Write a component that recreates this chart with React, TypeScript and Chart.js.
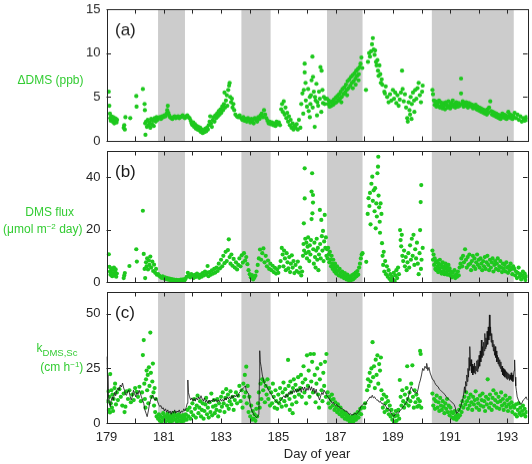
import React, { useEffect, useRef } from 'react';
import { Chart, registerables } from 'chart.js';

Chart.register(...registerables);

// ---- axes ----
const DAY_MIN = 179;
const DAY_MAX = 193.7;
const dayTicks = [179, 180, 181, 182, 183, 184, 185, 186, 187, 188, 189, 190, 191, 192, 193];
const labeledDays = [179, 181, 183, 185, 187, 189, 191, 193];
const dmsTicks = [0, 5, 10, 15];
const fluxTicks = [0, 20, 40];
const kTicks = [0, 25, 50];

// night-time periods (day of year, start / end)
const nightPeriods: [number, number][] = [
  [180.8, 181.74],
  [183.71, 184.73],
  [186.7, 187.94],
  [190.36, 193.22],
];

// ---- (a) ΔDMS, ppb ----
const deltaDms: [number, number][] = [
  [179.08, 5.6], [179.1, 4.0], [179.12, 3.1], [179.13, 2.6], [179.15, 2.3], [179.17, 2.8], [179.19, 2.5], [179.21, 2.2],
  [179.23, 2.7], [179.25, 2.4], [179.27, 2.0], [179.29, 2.6], [179.31, 2.3], [179.33, 2.5], [179.35, 2.1], [179.37, 2.4],
  [179.6, 1.5], [179.62, 1.8], [179.64, 1.3], [179.66, 2.7], [179.83, 2.6],
  [180.04, 5.1], [180.05, 3.9], [180.27, 5.9], [180.33, 4.2], [180.34, 3.5], [180.35, 2.0], [180.36, 0.7],
  [180.38, 2.2], [180.41, 1.6], [180.44, 2.4], [180.47, 1.8], [180.5, 2.1], [180.53, 1.5], [180.56, 2.5], [180.59, 1.9],
  [180.62, 2.3], [180.65, 1.7], [180.68, 2.6], [180.72, 2.2], [180.75, 2.7],
  [180.78, 2.4], [180.82, 2.6], [180.86, 2.7], [180.9, 2.5], [180.94, 2.8], [180.98, 2.7], [181.02, 2.9], [181.06, 2.8],
  [181.1, 3.1], [181.12, 3.5], [181.14, 4.0], [181.16, 3.2], [181.19, 2.9], [181.22, 2.7], [181.26, 2.6], [181.3, 2.5],
  [181.34, 2.7], [181.38, 2.8], [181.42, 2.6], [181.46, 2.7], [181.5, 2.8], [181.54, 2.6], [181.58, 2.7], [181.62, 2.8],
  [181.66, 2.9], [181.7, 2.7], [181.74, 2.6], [181.78, 2.8], [181.82, 2.9], [181.86, 2.7], [181.9, 2.6], [181.94, 2.3],
  [181.97, 2.0], [182.0, 1.8], [182.03, 2.1], [182.06, 1.6], [182.09, 1.9], [182.12, 1.4], [182.15, 1.7], [182.18, 1.3],
  [182.21, 1.6], [182.24, 1.2], [182.27, 1.5], [182.3, 1.0], [182.33, 1.3], [182.36, 0.9], [182.39, 1.2], [182.42, 1.0],
  [182.45, 1.4], [182.48, 1.1], [182.51, 1.5], [182.54, 1.3], [182.57, 1.8], [182.6, 2.2], [182.62, 2.8], [182.65, 2.0],
  [182.68, 1.6], [182.71, 2.4], [182.74, 2.7], [182.77, 2.2], [182.8, 2.9], [182.83, 2.6], [182.86, 3.1], [182.89, 2.8],
  [182.92, 3.4], [182.95, 3.0], [182.98, 3.6], [183.01, 3.2], [183.04, 3.9], [183.07, 3.5], [183.1, 4.2], [183.12, 5.5],
  [183.14, 3.8], [183.17, 4.6], [183.2, 5.2], [183.22, 4.0], [183.25, 5.8], [183.28, 6.3], [183.3, 6.6], [183.32, 5.0],
  [183.35, 4.4], [183.38, 4.8], [183.4, 3.8], [183.43, 4.2], [183.46, 3.5], [183.5, 3.0], [183.55, 2.8], [183.6, 2.7],
  [183.65, 2.9], [183.7, 2.6], [183.74, 2.4], [183.78, 2.7], [183.82, 2.3], [183.86, 2.5], [183.9, 2.2], [183.94, 2.6],
  [183.98, 2.4], [184.02, 2.1], [184.06, 2.5], [184.1, 2.3], [184.14, 2.0], [184.18, 2.6], [184.22, 2.4], [184.26, 2.2],
  [184.3, 2.7], [184.34, 2.5], [184.38, 2.9], [184.42, 3.1], [184.46, 2.7], [184.5, 3.5], [184.54, 3.0], [184.58, 2.6],
  [184.62, 2.3], [184.66, 2.0], [184.7, 2.2], [184.74, 1.9], [184.78, 2.1], [184.82, 1.8], [184.86, 2.0], [184.9, 1.7],
  [184.94, 2.2], [184.98, 1.9], [185.02, 2.1], [185.06, 1.8],
  [185.1, 3.6], [185.13, 4.2], [185.16, 3.3], [185.19, 4.5], [185.22, 3.0], [185.25, 3.8], [185.28, 2.6], [185.31, 3.2],
  [185.34, 2.2], [185.37, 2.8], [185.4, 1.8], [185.43, 2.4], [185.46, 1.5], [185.5, 2.0], [185.53, 1.3], [185.56, 1.7],
  [185.6, 1.5], [185.64, 1.9], [185.68, 1.3], [185.72, 2.4],
  [185.77, 1.5], [185.8, 4.2], [185.84, 5.4], [185.87, 3.1], [185.89, 5.8], [185.92, 8.8], [185.92, 7.8], [185.95, 6.6],
  [185.96, 4.6], [186.0, 3.9], [186.04, 5.9], [186.06, 3.4], [186.1, 5.0], [186.1, 2.7], [186.12, 4.2], [186.14, 5.2],
  [186.16, 6.9], [186.19, 9.6], [186.2, 3.8], [186.21, 7.3], [186.24, 5.6], [186.27, 1.6], [186.28, 5.0], [186.3, 4.6],
  [186.33, 6.5], [186.35, 2.9], [186.36, 4.4], [186.39, 4.0], [186.42, 5.6], [186.45, 4.8], [186.47, 8.4], [186.5, 3.3],
  [186.51, 8.0], [186.54, 5.8], [186.56, 4.3], [186.59, 5.0], [186.62, 4.2], [186.64, 4.8],
  [186.7, 4.8], [186.73, 4.2], [186.76, 4.6], [186.79, 3.9], [186.82, 4.4], [186.85, 4.0], [186.88, 4.5], [186.91, 4.1],
  [186.94, 4.7], [186.97, 4.3], [187.0, 4.9], [187.03, 4.4], [187.06, 5.1], [187.09, 4.6], [187.12, 5.3], [187.15, 4.8],
  [187.18, 5.6], [187.2, 4.4], [187.21, 5.0], [187.24, 5.9], [187.27, 5.3], [187.3, 6.1], [187.33, 5.5], [187.36, 6.4],
  [187.39, 5.8], [187.4, 5.2], [187.42, 6.8], [187.45, 6.0], [187.48, 7.0], [187.51, 6.3], [187.54, 7.3], [187.57, 6.6],
  [187.6, 7.5], [187.6, 6.0], [187.63, 6.8], [187.66, 7.7], [187.69, 7.1], [187.7, 6.4], [187.72, 8.0], [187.75, 7.4],
  [187.78, 8.2], [187.8, 6.9], [187.81, 7.6], [187.84, 8.4], [187.87, 8.8], [187.9, 9.5], [187.93, 8.3],
  [188.06, 5.8], [188.13, 9.0], [188.17, 10.0], [188.2, 9.6], [188.24, 10.2], [188.27, 11.0], [188.3, 11.7], [188.33, 10.4],
  [188.36, 9.8], [188.38, 10.3], [188.41, 9.0], [188.43, 8.6], [188.46, 9.2], [188.48, 8.0], [188.5, 7.4], [188.53, 8.6],
  [188.56, 7.6], [188.58, 6.6], [188.61, 7.0], [188.63, 6.4], [188.7, 5.6], [188.72, 5.4], [188.75, 6.2], [188.8, 5.0],
  [188.85, 4.4], [188.9, 5.3], [188.95, 4.6], [189.0, 5.8], [189.04, 4.8], [189.08, 5.5], [189.12, 4.3], [189.16, 5.2],
  [189.2, 4.0], [189.24, 4.7], [189.28, 5.5], [189.32, 8.0], [189.34, 5.9], [189.38, 4.5], [189.42, 5.3], [189.46, 3.8],
  [189.5, 2.6], [189.52, 2.2], [189.55, 4.4], [189.58, 3.5], [189.6, 3.0], [189.62, 5.0], [189.65, 2.5], [189.66, 4.2],
  [189.7, 5.5], [189.74, 4.6], [189.75, 3.3], [189.78, 5.8], [189.82, 4.8], [189.86, 6.0], [189.9, 6.6], [189.94, 5.2],
  [189.98, 4.4], [190.02, 5.6], [190.04, 6.3],
  [190.38, 5.8], [190.4, 5.3], [190.43, 4.6], [190.46, 4.1], [190.49, 4.5], [190.52, 3.9], [190.55, 4.3], [190.58, 4.0],
  [190.61, 4.6], [190.64, 3.8], [190.67, 4.4], [190.7, 4.1], [190.73, 3.7], [190.76, 4.3], [190.79, 4.0], [190.82, 3.6],
  [190.85, 4.4], [190.88, 4.1], [190.91, 3.8], [190.94, 4.5], [190.97, 4.0], [191.0, 3.7], [191.03, 4.3], [191.06, 4.0],
  [191.09, 4.6], [191.12, 3.9], [191.15, 4.2], [191.18, 3.8], [191.21, 4.4], [191.24, 4.1], [191.27, 3.9], [191.3, 4.3],
  [191.33, 4.0], [191.38, 7.1], [191.38, 5.4], [191.41, 4.2], [191.44, 4.5], [191.47, 3.9], [191.5, 4.3], [191.53, 4.0],
  [191.56, 4.4], [191.59, 4.1], [191.62, 3.8], [191.65, 4.3], [191.68, 4.0], [191.71, 4.2], [191.74, 3.9], [191.77, 4.1],
  [191.8, 3.7], [191.83, 4.0], [191.86, 3.8], [191.89, 4.1], [191.92, 3.6], [191.95, 3.9], [191.98, 3.5], [192.01, 3.8],
  [192.04, 3.4], [192.07, 3.7], [192.1, 3.3], [192.13, 3.6], [192.16, 3.2], [192.19, 3.5], [192.22, 3.1], [192.25, 3.4],
  [192.28, 3.0], [192.3, 3.6], [192.33, 3.2], [192.36, 3.8], [192.4, 4.5], [192.43, 3.4], [192.46, 3.0], [192.49, 3.3],
  [192.52, 2.9], [192.55, 3.2], [192.58, 2.8], [192.61, 3.1], [192.64, 2.7], [192.67, 3.0], [192.7, 2.6], [192.73, 2.9],
  [192.76, 2.5], [192.79, 2.8], [192.82, 3.1], [192.85, 2.7], [192.88, 3.0], [192.91, 2.6], [192.94, 2.9], [192.97, 2.5],
  [193.0, 2.8], [193.03, 3.3], [193.06, 2.7], [193.09, 3.0], [193.12, 2.6], [193.15, 2.9], [193.18, 2.5], [193.21, 2.8],
  [193.25, 3.2], [193.3, 2.6], [193.35, 3.0], [193.4, 2.4], [193.45, 2.8], [193.5, 2.2], [193.55, 2.6], [193.6, 2.3],
  [193.65, 2.7], [193.68, 2.4],
];

// ---- (b) DMS flux, µmol m-2 day ----
const dmsFlux: [number, number][] = [
  [179.08, 10.6], [179.1, 5.8], [179.12, 4.0], [179.14, 2.8], [179.16, 5.2], [179.18, 3.4], [179.2, 2.2], [179.22, 4.6],
  [179.24, 3.0], [179.26, 5.5], [179.28, 2.5], [179.3, 3.8], [179.32, 4.8], [179.34, 2.0], [179.36, 3.2],
  [179.6, 1.5], [179.62, 2.5], [179.64, 3.4], [179.8, 6.1], [180.04, 12.5], [180.06, 7.8], [180.27, 27.2], [180.3, 10.7],
  [180.33, 5.0], [180.35, 1.5], [180.38, 7.5], [180.4, 6.0], [180.42, 9.0], [180.45, 4.8], [180.48, 8.2], [180.5, 6.5],
  [180.53, 9.7], [180.56, 5.5], [180.6, 7.8], [180.63, 4.2], [180.66, 6.6], [180.7, 3.5], [180.73, 5.0], [180.76, 2.8],
  [180.8, 3.0], [180.84, 2.4], [180.88, 2.0], [180.92, 1.6], [180.96, 2.2], [181.0, 1.4], [181.04, 1.8], [181.08, 1.1],
  [181.12, 1.5], [181.16, 0.9], [181.2, 1.3], [181.24, 0.7], [181.28, 1.1], [181.32, 0.6], [181.36, 0.9], [181.4, 0.5],
  [181.44, 0.8], [181.48, 0.4], [181.52, 0.7], [181.56, 0.5], [181.6, 0.9], [181.64, 0.6], [181.68, 1.0], [181.72, 0.7],
  [181.76, 1.2], [181.8, 2.0], [181.84, 3.5], [181.88, 2.6], [181.92, 1.8], [181.96, 3.0], [182.0, 2.2], [182.04, 1.5],
  [182.08, 2.7], [182.12, 1.9], [182.16, 3.2], [182.2, 2.4], [182.24, 1.6], [182.28, 2.8], [182.32, 2.0], [182.36, 3.4],
  [182.4, 2.5], [182.44, 4.0], [182.48, 2.9], [182.52, 3.6], [182.53, 6.1], [182.56, 2.2], [182.6, 3.8], [182.64, 2.8],
  [182.68, 4.4], [182.72, 3.2], [182.76, 5.0], [182.8, 3.6], [182.84, 5.5], [182.88, 4.2], [182.92, 7.0], [182.96, 5.2],
  [183.0, 8.5], [183.04, 6.0], [183.08, 10.0], [183.12, 7.2], [183.16, 11.5], [183.2, 8.0], [183.24, 12.2], [183.27, 16.3],
  [183.3, 9.5], [183.33, 7.0], [183.36, 10.5], [183.4, 6.2], [183.44, 8.8], [183.48, 5.5], [183.52, 7.5], [183.56, 4.8],
  [183.6, 6.5], [183.64, 9.0], [183.68, 6.0], [183.72, 10.2], [183.76, 7.4], [183.8, 11.0], [183.84, 8.2], [183.88, 9.5],
  [183.92, 6.8], [183.96, 4.5], [184.0, 3.0], [184.04, 1.8], [184.08, 2.6], [184.12, 1.0], [184.16, 1.6], [184.2, 2.4],
  [184.24, 4.0], [184.28, 6.5], [184.32, 9.0], [184.36, 12.4], [184.4, 8.5], [184.44, 11.0], [184.48, 12.8], [184.52, 7.5],
  [184.56, 10.0], [184.6, 6.0], [184.64, 8.2], [184.68, 5.0], [184.72, 7.0], [184.76, 4.5], [184.8, 6.2], [184.84, 3.8],
  [184.88, 5.4], [184.92, 3.2], [184.96, 4.8], [185.0, 3.5], [185.04, 5.8],
  [185.08, 8.0], [185.12, 13.0], [185.15, 10.5], [185.18, 6.0], [185.2, 12.0], [185.23, 9.0], [185.26, 4.5], [185.29, 11.0],
  [185.32, 7.5], [185.35, 5.2], [185.38, 9.5], [185.41, 3.8], [185.44, 7.0], [185.47, 10.2], [185.5, 5.5], [185.53, 8.0],
  [185.56, 3.4], [185.6, 6.5], [185.64, 4.2], [185.68, 7.8], [185.72, 3.6], [185.76, 5.5], [185.8, 2.5], [185.83, 4.0],
  [185.86, 10.0], [185.88, 14.5], [185.89, 22.4], [185.9, 12.0], [185.92, 43.4], [185.92, 31.9], [185.94, 16.5], [185.96, 11.0],
  [185.98, 15.0], [186.0, 9.0], [186.02, 13.5], [186.04, 17.0], [186.06, 11.5], [186.08, 8.0], [186.1, 14.0], [186.12, 10.5],
  [186.14, 16.0], [186.16, 24.0], [186.16, 34.5], [186.18, 41.5], [186.19, 26.2], [186.21, 33.2], [186.21, 30.3], [186.22, 12.5],
  [186.24, 7.0], [186.26, 15.0], [186.28, 9.5], [186.3, 5.5], [186.32, 12.0], [186.34, 16.5], [186.36, 8.5], [186.38, 13.0],
  [186.4, 4.5], [186.42, 10.5], [186.45, 27.5], [186.46, 14.5], [186.48, 9.0], [186.5, 23.7], [186.52, 17.5], [186.54, 12.0],
  [186.56, 19.5], [186.58, 8.0], [186.6, 15.5], [186.62, 25.6], [186.64, 13.0], [186.66, 17.0], [186.68, 10.0],
  [186.7, 12.5], [186.72, 9.0], [186.74, 13.0], [186.76, 10.5], [186.78, 7.5], [186.8, 11.5], [186.82, 8.5], [186.84, 6.0],
  [186.86, 10.0], [186.88, 7.0], [186.9, 5.0], [186.92, 8.5], [186.94, 6.0], [186.96, 4.0], [186.98, 7.0], [187.0, 5.0],
  [187.02, 3.2], [187.05, 6.0], [187.08, 4.2], [187.11, 2.5], [187.14, 5.0], [187.17, 3.4], [187.2, 2.0], [187.23, 4.0],
  [187.26, 2.6], [187.29, 1.5], [187.32, 3.4], [187.35, 2.0], [187.38, 1.0], [187.41, 2.8], [187.44, 1.5], [187.47, 0.6],
  [187.5, 2.2], [187.52, 0.4], [187.55, 1.2], [187.58, 2.6], [187.61, 1.0], [187.64, 3.0], [187.67, 1.6], [187.7, 3.6],
  [187.73, 2.2], [187.76, 4.2], [187.79, 2.8], [187.82, 5.5], [187.85, 7.0], [187.88, 9.0], [187.91, 10.5], [187.94, 11.0],
  [188.07, 7.7], [188.12, 26.0], [188.15, 32.0], [188.18, 29.0], [188.2, 34.0], [188.22, 22.0], [188.25, 37.5], [188.28, 40.2],
  [188.3, 31.0], [188.33, 35.0], [188.36, 27.0], [188.38, 35.8], [188.4, 20.5], [188.42, 30.0], [188.44, 25.0], [188.46, 41.5],
  [188.48, 44.0], [188.49, 47.8], [188.5, 33.0], [188.52, 28.5], [188.54, 23.0], [188.55, 18.8], [188.57, 30.0], [188.6, 26.0],
  [188.62, 14.8], [188.64, 10.0], [188.66, 6.5], [188.68, 11.5], [188.7, 4.0], [188.73, 8.0], [188.76, 3.0], [188.79, 6.0],
  [188.82, 2.0], [188.85, 4.5], [188.88, 1.2], [188.91, 3.0], [188.94, 0.5], [188.97, 2.0], [189.0, 1.0], [189.03, 3.5],
  [189.06, 0.4], [189.09, 2.5], [189.12, 4.5], [189.15, 1.5], [189.18, 5.5], [189.21, 3.0],
  [189.25, 19.8], [189.27, 16.0], [189.29, 13.6], [189.31, 18.0], [189.33, 10.0], [189.36, 8.0], [189.39, 12.0], [189.42, 6.0],
  [189.45, 9.5], [189.48, 4.5], [189.51, 7.5], [189.54, 11.0], [189.57, 5.5], [189.6, 14.0], [189.63, 8.5], [189.66, 16.5],
  [189.69, 10.0], [189.72, 18.0], [189.75, 6.5], [189.78, 12.5], [189.81, 9.0], [189.84, 15.0], [189.87, 7.0], [189.9, 3.0],
  [189.93, 11.0], [189.95, 19.8], [189.97, 30.5], [189.98, 5.0], [189.99, 37.0], [190.0, 8.5], [190.04, 13.0],
  [190.38, 12.0], [190.4, 8.5], [190.42, 10.5], [190.44, 6.5], [190.46, 9.0], [190.48, 5.0], [190.5, 7.5], [190.52, 4.5],
  [190.54, 8.0], [190.56, 6.0], [190.58, 3.8], [190.6, 7.0], [190.62, 5.2], [190.64, 8.5], [190.66, 4.0], [190.68, 6.5],
  [190.7, 3.2], [190.72, 5.5], [190.74, 7.5], [190.76, 4.2], [190.78, 6.0], [190.8, 3.0], [190.82, 5.0], [190.84, 7.0],
  [190.86, 3.5], [190.88, 5.8], [190.9, 2.8], [190.92, 4.5], [190.94, 6.5], [190.96, 3.0], [190.98, 5.2], [191.0, 2.5],
  [191.03, 4.0], [191.06, 1.8], [191.09, 3.5], [191.12, 2.2], [191.15, 4.5], [191.18, 1.5], [191.21, 3.0], [191.24, 2.0],
  [191.27, 4.0], [191.3, 2.5], [191.33, 5.5], [191.36, 7.0], [191.39, 9.0], [191.42, 6.0], [191.45, 10.0], [191.48, 7.5],
  [191.52, 12.5], [191.55, 8.5], [191.58, 5.5], [191.61, 9.5], [191.64, 6.5], [191.67, 10.5], [191.7, 7.0], [191.73, 4.5],
  [191.76, 8.0], [191.79, 10.0], [191.82, 6.0], [191.85, 9.0], [191.88, 5.0], [191.91, 7.5], [191.94, 10.5], [191.97, 6.5],
  [192.0, 8.5], [192.03, 5.5], [192.06, 9.0], [192.09, 7.0], [192.12, 4.5], [192.15, 8.0], [192.18, 6.0], [192.21, 9.5],
  [192.24, 5.0], [192.27, 7.5], [192.3, 10.0], [192.33, 6.5], [192.36, 4.5], [192.39, 8.5], [192.42, 5.5], [192.45, 7.5],
  [192.48, 9.0], [192.51, 4.0], [192.54, 6.5], [192.57, 8.0], [192.6, 5.0], [192.63, 7.0], [192.66, 9.0], [192.69, 4.5],
  [192.72, 6.0], [192.75, 8.0], [192.78, 5.5], [192.81, 3.8], [192.84, 7.0], [192.87, 5.0], [192.9, 6.5], [192.93, 4.0],
  [192.96, 7.5], [192.99, 5.5], [193.02, 3.5], [193.05, 6.0], [193.08, 4.5], [193.11, 7.0], [193.14, 5.0], [193.17, 3.0],
  [193.2, 6.0], [193.24, 5.0], [193.27, 2.5], [193.3, 4.0], [193.33, 1.5], [193.36, 3.5], [193.39, 5.5], [193.42, 2.0],
  [193.45, 3.0], [193.48, 1.0], [193.51, 2.5], [193.54, 4.0], [193.57, 1.8], [193.6, 3.2], [193.63, 0.8], [193.66, 2.2],
];

// ---- (c) k_DMS,Sc from the flux / concentration ratio, cm h-1 ----
const kDms: [number, number][] = [
  [179.04, 10.0], [179.06, 14.5], [179.08, 6.0], [179.1, 12.0], [179.12, 4.8], [179.13, 22.4], [179.15, 9.0], [179.17, 15.0],
  [179.19, 7.0], [179.21, 13.0], [179.23, 5.5], [179.25, 11.0], [179.28, 16.0], [179.3, 18.0], [179.33, 8.5], [179.36, 14.0],
  [179.4, 10.5], [179.45, 15.5], [179.5, 12.0], [179.55, 8.0], [179.6, 13.5], [179.63, 5.0], [179.66, 7.5], [179.7, 14.5],
  [179.75, 11.0], [179.8, 15.0], [179.85, 9.5], [179.9, 13.0], [179.95, 10.5], [180.0, 16.0], [180.05, 14.3], [180.1, 12.0],
  [180.15, 16.6], [180.2, 10.0], [180.24, 14.0], [180.27, 31.1], [180.3, 38.0], [180.32, 18.0], [180.34, 11.0], [180.36, 7.0],
  [180.38, 20.0], [180.4, 24.0], [180.42, 15.0], [180.44, 22.0], [180.46, 9.0], [180.48, 25.5], [180.5, 17.0], [180.53, 41.4],
  [180.55, 23.0], [180.57, 12.0], [180.6, 19.0], [180.62, 27.2], [180.64, 14.0], [180.66, 8.0], [180.68, 16.0], [180.7, 5.0],
  [180.72, 11.0], [180.75, 3.0],
  [180.8, 2.0], [180.83, 4.0], [180.86, 1.2], [180.89, 3.0], [180.92, 0.6], [180.95, 2.4], [180.98, 4.5], [181.01, 1.5],
  [181.04, 3.2], [181.07, 0.8], [181.1, 2.6], [181.13, 4.2], [181.16, 1.4], [181.19, 3.0], [181.22, 0.5], [181.25, 2.2],
  [181.28, 3.8], [181.31, 1.0], [181.34, 2.8], [181.37, 4.6], [181.4, 1.6], [181.43, 3.4], [181.46, 0.7], [181.49, 2.4],
  [181.52, 4.0], [181.55, 1.2], [181.58, 3.0], [181.61, 0.6], [181.64, 2.0], [181.67, 3.6], [181.7, 1.0], [181.73, 2.5],
  [181.77, 4.0], [181.8, 1.5], [181.83, 6.0], [181.86, 3.0], [181.9, 7.0], [181.93, 2.0], [181.96, 5.0], [182.0, 9.0],
  [182.03, 3.5], [182.06, 11.0], [182.09, 6.5], [182.12, 2.5], [182.15, 8.0], [182.18, 12.5], [182.21, 4.5], [182.24, 7.0],
  [182.27, 10.0], [182.3, 3.0], [182.33, 6.0], [182.36, 9.0], [182.39, 2.0], [182.42, 5.5], [182.45, 8.5], [182.48, 11.5],
  [182.51, 4.0], [182.54, 7.0], [182.57, 2.5], [182.6, 9.5], [182.63, 5.0], [182.66, 13.5], [182.69, 3.5], [182.72, 7.5],
  [182.75, 10.5], [182.78, 4.5], [182.81, 8.0], [182.84, 6.0], [182.87, 11.0], [182.9, 3.0], [182.93, 9.0], [182.96, 5.5],
  [183.0, 12.0], [183.03, 7.5], [183.06, 14.0], [183.09, 9.0], [183.12, 5.0], [183.15, 11.5], [183.18, 15.5], [183.21, 8.0],
  [183.24, 13.0], [183.27, 6.5], [183.3, 10.0], [183.33, 14.5], [183.36, 8.5], [183.4, 12.0], [183.44, 6.0], [183.48, 10.5],
  [183.52, 14.0], [183.56, 9.0], [183.6, 12.5], [183.64, 17.0],
  [183.68, 10.0], [183.72, 15.0], [183.75, 7.0], [183.78, 18.0], [183.81, 12.0], [183.83, 22.0], [183.86, 14.0], [183.88, 25.8],
  [183.9, 9.0], [183.93, 17.0], [183.96, 5.0], [183.99, 12.0], [184.02, 3.0], [184.05, 8.0], [184.08, 1.5], [184.11, 5.5],
  [184.14, 2.0], [184.17, 4.0], [184.2, 1.0], [184.23, 6.5], [184.26, 3.0], [184.29, 9.0], [184.32, 14.0], [184.35, 7.0],
  [184.38, 18.0], [184.41, 11.0], [184.44, 20.0], [184.47, 15.0], [184.5, 19.0], [184.53, 9.5], [184.56, 17.0], [184.59, 13.0],
  [184.62, 20.0], [184.65, 11.0], [184.68, 16.0], [184.71, 8.0],
  [184.75, 14.0], [184.78, 9.0], [184.81, 18.0], [184.84, 12.0], [184.87, 7.0], [184.9, 15.0], [184.93, 10.0], [184.96, 6.5],
  [185.0, 13.0], [185.03, 9.0], [185.06, 16.0], [185.09, 11.0], [185.12, 7.5], [185.15, 14.0], [185.18, 18.5], [185.21, 10.0],
  [185.24, 15.5], [185.27, 8.0], [185.3, 12.5], [185.34, 28.9], [185.36, 17.0], [185.39, 11.0], [185.4, 6.0], [185.42, 19.0],
  [185.45, 14.0], [185.48, 8.5], [185.5, 4.5], [185.51, 16.0], [185.54, 20.0], [185.57, 12.0], [185.6, 17.5], [185.63, 9.5],
  [185.66, 15.0], [185.69, 21.0], [185.72, 13.0],
  [185.76, 16.0], [185.79, 22.0], [185.82, 12.0], [185.85, 18.5], [185.88, 26.0], [185.91, 14.0], [185.94, 20.0], [185.97, 9.0],
  [186.0, 31.0], [186.03, 17.0], [186.06, 24.0], [186.09, 12.0], [186.12, 31.6], [186.15, 19.0], [186.18, 28.0], [186.21, 14.0],
  [186.24, 31.6], [186.27, 22.0], [186.3, 9.5], [186.33, 18.0], [186.36, 25.0], [186.39, 13.0], [186.42, 7.0], [186.45, 20.0],
  [186.48, 27.0], [186.51, 15.0], [186.54, 10.0], [186.57, 23.0], [186.6, 17.0], [186.63, 28.0], [186.66, 12.0], [186.68, 31.6],
  [186.72, 14.0], [186.75, 9.0], [186.78, 12.0], [186.81, 7.0], [186.84, 10.5], [186.87, 13.0], [186.9, 8.0], [186.93, 11.0],
  [186.96, 6.0], [186.99, 9.5], [187.02, 7.0], [187.05, 5.0], [187.08, 8.5], [187.11, 6.0], [187.14, 4.0], [187.17, 7.0],
  [187.2, 5.0], [187.23, 3.0], [187.26, 5.5], [187.29, 4.0], [187.32, 2.0], [187.35, 4.5], [187.38, 3.0], [187.41, 1.5],
  [187.44, 3.5], [187.47, 2.0], [187.5, 0.5], [187.53, 2.5], [187.56, 1.0], [187.59, 3.0], [187.62, 0.8], [187.65, 2.2],
  [187.68, 4.0], [187.71, 1.5], [187.74, 3.0], [187.77, 5.0], [187.8, 2.5], [187.83, 4.5], [187.86, 6.5], [187.89, 4.0],
  [187.92, 7.0], [188.0, 7.0], [188.03, 9.0],
  [188.1, 15.0], [188.13, 20.0], [188.16, 17.0], [188.19, 23.0], [188.22, 19.0], [188.25, 25.0], [188.29, 37.0], [188.31, 21.0],
  [188.34, 26.0], [188.37, 16.0], [188.4, 29.0], [188.43, 22.0], [188.46, 31.0], [188.49, 18.0], [188.52, 27.0], [188.55, 24.0],
  [188.58, 30.0], [188.6, 15.0], [188.62, 11.0], [188.65, 7.0], [188.68, 13.0], [188.71, 5.0], [188.74, 9.0], [188.77, 12.0],
  [188.8, 6.0], [188.83, 10.0], [188.86, 4.0], [188.89, 8.0], [188.92, 3.0], [188.95, 6.0], [188.98, 1.5], [189.01, 4.0],
  [189.04, 0.5], [189.07, 3.0], [189.1, 5.5], [189.13, 1.0], [189.16, 3.5], [189.19, 6.0], [189.22, 2.0],
  [189.24, 19.7], [189.27, 12.0], [189.3, 8.0], [189.33, 15.0], [189.36, 10.0], [189.39, 7.0], [189.42, 13.0], [189.45, 9.0],
  [189.48, 16.0], [189.5, 26.0], [189.52, 11.0], [189.55, 8.0], [189.58, 14.0], [189.61, 10.0], [189.64, 18.0], [189.68, 26.4],
  [189.7, 12.0], [189.73, 7.0], [189.76, 15.0], [189.79, 9.5], [189.82, 13.0], [189.85, 7.5], [189.88, 11.0], [189.91, 8.0],
  [189.94, 10.0], [189.95, 33.0], [189.97, 31.6], [189.99, 7.0],
  [190.38, 13.5], [190.41, 8.0], [190.44, 11.0], [190.47, 6.5], [190.5, 10.0], [190.53, 12.5], [190.56, 7.0], [190.59, 9.5],
  [190.62, 5.5], [190.65, 11.5], [190.68, 8.0], [190.71, 6.0], [190.74, 10.0], [190.77, 7.5], [190.8, 4.5], [190.83, 9.0],
  [190.86, 6.5], [190.89, 11.0], [190.92, 5.0], [190.95, 8.0], [190.98, 3.5], [191.01, 7.0], [191.04, 5.0], [191.07, 2.5],
  [191.1, 4.5], [191.13, 2.0], [191.16, 5.5], [191.19, 3.0], [191.22, 1.5], [191.25, 4.0], [191.28, 2.5], [191.31, 6.0],
  [191.34, 3.5], [191.37, 8.0], [191.4, 5.0], [191.43, 10.0], [191.46, 7.0],
  [191.5, 12.0], [191.53, 8.5], [191.56, 14.0], [191.59, 10.0], [191.62, 6.5], [191.65, 11.5], [191.68, 8.0], [191.71, 13.0],
  [191.74, 9.5], [191.77, 6.0], [191.8, 12.0], [191.83, 8.5], [191.86, 10.5], [191.89, 14.5], [191.92, 7.0], [191.95, 11.0],
  [191.98, 9.0], [192.01, 6.0], [192.04, 12.5], [192.07, 8.0], [192.1, 10.5], [192.13, 13.5], [192.16, 7.5], [192.19, 10.0],
  [192.22, 5.5], [192.25, 12.0], [192.28, 8.5], [192.31, 20.0], [192.33, 11.0], [192.36, 7.0], [192.39, 13.0], [192.42, 9.0],
  [192.45, 6.0], [192.48, 11.5], [192.51, 15.0], [192.54, 8.0], [192.57, 10.5], [192.6, 13.5], [192.63, 7.0], [192.66, 9.5],
  [192.69, 12.0], [192.72, 6.5], [192.75, 10.0], [192.78, 14.0], [192.81, 8.0], [192.84, 11.0], [192.87, 6.0], [192.9, 9.0],
  [192.93, 12.5], [192.96, 7.5], [192.99, 10.5], [193.02, 5.5], [193.05, 8.5], [193.08, 11.5], [193.11, 7.0], [193.14, 9.5],
  [193.17, 5.0], [193.2, 8.0], [193.24, 7.0], [193.27, 4.0], [193.3, 8.5], [193.33, 3.0], [193.36, 6.0], [193.39, 9.0],
  [193.42, 4.5], [193.45, 7.0], [193.48, 3.5], [193.51, 5.5], [193.54, 8.0], [193.57, 4.0], [193.6, 6.5], [193.63, 3.0],
  [193.66, 5.0],
];

// ---- (c) parameterised transfer velocity, cm h-1 (black trace) ----
const kModel: [number, number][] = [
  [179.01, 30.4], [179.03, 22.0], [179.05, 15.0], [179.08, 11.8], [179.1, 9.0], [179.13, 7.5], [179.16, 10.0], [179.2, 12.0],
  [179.24, 10.5], [179.28, 14.0], [179.32, 12.5], [179.36, 15.0], [179.4, 16.0], [179.44, 15.0], [179.48, 17.4], [179.52, 16.5],
  [179.56, 18.3], [179.6, 16.0], [179.63, 15.0], [179.66, 13.0], [179.7, 12.7], [179.74, 14.5], [179.78, 15.0], [179.82, 12.5],
  [179.86, 10.5], [179.9, 12.0], [179.94, 15.0], [179.98, 13.5], [180.02, 12.0], [180.06, 14.0], [180.1, 13.0], [180.14, 15.0],
  [180.18, 13.5], [180.22, 12.0], [180.26, 10.5], [180.3, 9.0], [180.34, 6.0], [180.38, 4.5], [180.42, 2.9], [180.46, 5.5],
  [180.5, 8.5], [180.54, 10.5], [180.58, 12.0], [180.62, 12.7], [180.66, 11.0], [180.7, 10.5], [180.74, 11.5], [180.78, 10.0],
  [180.82, 8.5], [180.86, 7.5], [180.9, 8.0], [180.94, 6.5], [180.98, 7.0], [181.02, 5.5], [181.06, 6.5], [181.1, 5.0],
  [181.14, 6.0], [181.18, 4.5], [181.22, 5.5], [181.26, 4.0], [181.3, 5.5], [181.34, 4.5], [181.38, 6.0], [181.42, 4.5],
  [181.46, 5.5], [181.5, 5.0], [181.54, 6.0], [181.58, 4.5], [181.62, 5.5], [181.66, 5.0], [181.7, 6.5], [181.74, 5.5],
  [181.78, 7.0], [181.82, 9.0], [181.84, 19.7], [181.86, 14.0], [181.9, 12.0], [181.94, 10.5], [181.98, 11.5], [182.02, 10.0],
  [182.06, 11.2], [182.1, 10.0], [182.14, 11.5], [182.18, 10.5], [182.22, 12.0], [182.26, 11.0], [182.3, 12.5], [182.34, 11.0],
  [182.38, 10.0], [182.42, 11.5], [182.46, 9.5], [182.5, 10.5], [182.54, 9.0], [182.58, 10.5], [182.62, 9.5], [182.66, 10.5],
  [182.7, 9.8], [182.74, 11.0], [182.78, 10.0], [182.82, 10.8], [182.86, 9.5], [182.9, 10.5], [182.94, 9.8], [182.98, 11.0],
  [183.02, 10.0], [183.06, 10.8], [183.1, 10.0], [183.14, 11.5], [183.18, 10.5], [183.22, 12.0], [183.26, 11.0], [183.3, 12.0],
  [183.34, 11.0], [183.38, 12.5], [183.42, 11.5], [183.46, 12.7], [183.5, 12.0], [183.54, 13.0], [183.58, 12.0], [183.62, 13.5],
  [183.66, 14.2], [183.7, 15.0], [183.74, 15.5], [183.78, 16.0], [183.82, 16.5], [183.85, 17.0], [183.88, 15.0], [183.92, 14.0],
  [183.96, 13.5], [184.0, 10.0], [184.04, 7.0], [184.08, 5.5], [184.12, 4.5], [184.16, 3.5], [184.2, 3.0], [184.24, 2.5],
  [184.28, 3.0], [184.32, 4.0], [184.34, 20.0], [184.35, 33.1], [184.37, 28.0], [184.4, 25.8], [184.44, 22.0], [184.48, 19.7],
  [184.52, 18.0], [184.56, 17.5], [184.6, 16.6], [184.64, 15.5], [184.68, 14.5], [184.72, 14.0], [184.76, 13.0], [184.8, 12.0],
  [184.84, 11.0], [184.88, 10.5], [184.92, 10.0], [184.96, 9.5], [185.0, 9.0], [185.04, 9.5], [185.08, 10.5], [185.12, 11.0],
  [185.16, 12.0], [185.2, 12.5], [185.24, 11.5], [185.28, 13.0], [185.32, 12.0], [185.36, 14.0], [185.4, 13.0], [185.44, 14.5],
  [185.48, 13.5], [185.52, 15.0], [185.56, 14.0], [185.6, 15.5], [185.64, 14.0], [185.68, 15.5], [185.72, 14.5], [185.76, 16.0],
  [185.8, 14.0], [185.84, 16.5], [185.88, 15.0], [185.92, 16.5], [185.96, 14.5], [186.0, 16.0], [186.04, 15.0], [186.08, 17.0],
  [186.12, 15.0], [186.16, 16.6], [186.2, 14.5], [186.24, 16.0], [186.28, 13.5], [186.32, 15.5], [186.36, 13.0], [186.4, 12.0],
  [186.44, 10.5], [186.48, 12.5], [186.52, 14.0], [186.56, 13.0], [186.6, 15.0], [186.64, 14.0], [186.68, 13.0], [186.72, 12.0],
  [186.76, 11.5], [186.8, 10.5], [186.84, 10.0], [186.88, 9.0], [186.92, 9.5], [186.96, 8.5], [187.0, 8.0], [187.04, 8.5],
  [187.08, 7.5], [187.12, 7.5], [187.16, 7.0], [187.2, 6.5], [187.24, 6.5], [187.28, 6.0], [187.32, 5.5], [187.36, 5.5],
  [187.4, 5.3], [187.44, 4.5], [187.48, 4.0], [187.52, 4.2], [187.56, 3.7], [187.6, 3.8], [187.64, 4.0], [187.68, 4.5],
  [187.72, 4.0], [187.76, 4.5], [187.8, 5.0], [187.84, 6.0], [187.88, 7.5], [187.92, 8.0], [187.96, 8.5], [188.0, 9.0],
  [188.04, 8.5], [188.08, 9.5], [188.12, 10.5], [188.16, 11.0], [188.2, 12.0], [188.24, 11.5], [188.28, 12.7], [188.32, 11.5],
  [188.36, 12.0], [188.4, 11.0], [188.44, 10.5], [188.48, 10.5], [188.52, 9.5], [188.56, 10.0], [188.6, 9.0], [188.64, 9.0],
  [188.68, 8.0], [188.72, 8.5], [188.76, 7.5], [188.8, 6.5], [188.84, 7.0], [188.88, 6.0], [188.92, 5.0], [188.96, 4.0],
  [189.0, 3.5], [189.04, 3.0], [189.08, 4.0], [189.12, 4.5], [189.16, 5.0], [189.2, 4.5], [189.24, 5.5], [189.28, 6.0],
  [189.32, 6.7], [189.36, 7.5], [189.4, 8.0], [189.44, 9.0], [189.48, 9.5], [189.52, 11.0], [189.56, 13.0], [189.6, 15.0],
  [189.64, 16.6], [189.68, 15.5], [189.72, 14.5], [189.76, 14.0], [189.8, 14.2], [189.84, 13.5], [189.88, 15.5], [189.92, 18.0],
  [189.96, 19.7], [190.0, 22.0], [190.04, 25.0], [190.08, 24.0], [190.12, 26.0], [190.16, 25.0], [190.18, 27.3], [190.22, 24.0],
  [190.26, 25.5], [190.3, 22.9], [190.34, 21.5], [190.38, 20.0], [190.42, 19.7], [190.46, 18.5], [190.5, 17.5], [190.54, 17.0],
  [190.58, 16.6], [190.62, 15.5], [190.66, 15.0], [190.7, 14.5], [190.74, 14.0], [190.78, 13.5], [190.82, 13.0], [190.86, 12.0],
  [190.9, 11.5], [190.94, 11.0], [190.98, 10.5], [191.02, 10.0], [191.06, 9.5], [191.1, 9.0], [191.14, 8.5], [191.18, 7.0],
  [191.22, 4.4], [191.26, 5.0], [191.3, 5.5], [191.34, 6.5], [191.38, 8.0], [191.42, 10.0], [191.46, 12.0],
  [191.5, 16.6], [191.52, 14.0], [191.54, 19.0], [191.56, 17.0], [191.58, 22.0], [191.6, 19.0], [191.62, 25.0], [191.64, 21.0],
  [191.66, 30.0], [191.68, 24.0], [191.69, 35.0], [191.71, 26.0], [191.73, 29.0], [191.75, 23.0], [191.77, 27.0], [191.79, 22.0],
  [191.81, 26.0], [191.83, 23.0], [191.85, 27.5], [191.87, 22.5], [191.89, 26.0], [191.91, 24.0], [191.93, 28.5], [191.95, 23.5],
  [191.97, 29.0], [191.99, 25.0], [192.01, 31.0], [192.03, 26.0], [192.05, 33.0], [192.07, 28.0], [192.09, 38.0], [192.11, 30.0],
  [192.13, 35.0], [192.15, 31.0], [192.17, 37.0], [192.19, 33.0], [192.21, 41.0], [192.23, 34.0], [192.25, 39.0], [192.27, 35.0],
  [192.29, 42.0], [192.31, 36.0], [192.33, 44.0], [192.35, 38.0], [192.37, 49.5], [192.39, 40.0], [192.41, 44.0], [192.43, 37.0],
  [192.45, 41.0], [192.47, 35.0], [192.49, 38.0], [192.51, 33.0], [192.53, 36.0], [192.55, 31.0], [192.57, 35.0], [192.59, 30.0],
  [192.61, 33.0], [192.63, 28.0], [192.65, 31.0], [192.67, 27.0], [192.69, 30.0], [192.71, 26.0], [192.73, 29.0], [192.75, 25.0],
  [192.77, 28.0], [192.79, 23.5], [192.81, 26.0], [192.83, 22.0], [192.85, 25.0], [192.87, 21.5], [192.89, 24.5], [192.91, 21.0],
  [192.93, 24.0], [192.95, 20.5], [192.97, 23.5], [192.99, 20.0], [193.01, 23.0], [193.03, 20.5], [193.05, 22.5], [193.07, 19.5],
  [193.09, 22.0], [193.11, 20.0], [193.13, 23.0], [193.15, 19.5], [193.17, 22.0], [193.19, 19.0], [193.21, 21.5], [193.23, 24.0],
  [193.25, 28.9], [193.27, 21.0], [193.29, 17.0], [193.31, 15.0], [193.34, 12.0], [193.38, 10.5], [193.42, 9.5], [193.46, 8.5],
  [193.5, 9.0], [193.55, 10.5], [193.6, 11.0], [193.65, 12.0], [193.7, 10.5],
];

// ---- styling ----
const FONT = '"Liberation Sans", Arial, Helvetica, sans-serif';
const AXIS_COLOR = '#262626';
const POINT_GREEN = '#1ec81e';
const LABEL_GREEN = '#33cc33';
const NIGHT_GRAY = '#cccccc';
const TICK_LEN = 4.5;
// generous vertical padding so the plot box is set by the padding, not by tick-label overhang
const PAD = 20;

type PanelSpec = {
  letter: string;
  yMax: number;
  yTicks: number[];
  top: number;
  height: number;
  padBottom: number;
  showX: boolean;
  points: [number, number][];
  line?: [number, number][];
};

function decorPlugin(spec: PanelSpec) {
  return {
    id: 'panelDecor',
    beforeDatasetsDraw(chart: any) {
      const { ctx, chartArea: a, scales } = chart;
      const x = scales.x;
      ctx.save();
      ctx.fillStyle = NIGHT_GRAY;
      for (const [s, e] of nightPeriods) {
        const x0 = x.getPixelForValue(s);
        const x1 = x.getPixelForValue(e);
        ctx.fillRect(x0, a.top, x1 - x0, a.bottom - a.top);
      }
      ctx.restore();
    },
    afterDatasetsDraw(chart: any) {
      const { ctx, chartArea: a, scales } = chart;
      const x = scales.x;
      const y = scales.y;
      ctx.save();
      ctx.strokeStyle = AXIS_COLOR;
      ctx.lineWidth = 1;
      ctx.beginPath();
      for (const d of dayTicks) {
        const px = Math.round(x.getPixelForValue(d)) + 0.5;
        ctx.moveTo(px, a.bottom);
        ctx.lineTo(px, a.bottom - TICK_LEN);
        ctx.moveTo(px, a.top);
        ctx.lineTo(px, a.top + TICK_LEN);
      }
      for (const v of spec.yTicks) {
        const py = Math.round(y.getPixelForValue(v)) + 0.5;
        ctx.moveTo(a.left, py);
        ctx.lineTo(a.left + TICK_LEN, py);
        ctx.moveTo(a.right, py);
        ctx.lineTo(a.right - TICK_LEN, py);
      }
      ctx.stroke();
      ctx.strokeRect(Math.round(a.left) + 0.5, Math.round(a.top) + 0.5, Math.round(a.right - a.left), Math.round(a.bottom - a.top));
      ctx.fillStyle = '#1a1a1a';
      ctx.font = `17px ${FONT}`;
      ctx.textAlign = 'left';
      ctx.textBaseline = 'middle';
      ctx.fillText(spec.letter, a.left + 8.5, a.top + 21);
      ctx.restore();
    },
  };
}

function buildChart(canvas: HTMLCanvasElement, spec: PanelSpec) {
  const datasets: any[] = [];
  if (spec.line) {
    datasets.push({
      data: spec.line.map(([d, v]) => ({ x: d, y: v })),
      showLine: true,
      borderColor: '#111111',
      borderWidth: 0.8,
      pointRadius: 0,
      tension: 0,
      order: 0,
    });
  }
  datasets.push({
    data: spec.points.map(([d, v]) => ({ x: d, y: v })),
    showLine: false,
    pointRadius: 2.1,
    pointBorderWidth: 0,
    pointBackgroundColor: POINT_GREEN,
    borderColor: POINT_GREEN,
    order: 1,
  });

  return new Chart(canvas, {
    type: 'scatter',
    data: { datasets },
    options: {
      responsive: false,
      animation: false,
      events: [],
      layout: { padding: { left: 0, right: 4.5, top: PAD, bottom: spec.padBottom } },
      plugins: { legend: { display: false }, tooltip: { enabled: false } },
      scales: {
        x: {
          type: 'linear',
          min: DAY_MIN,
          max: DAY_MAX,
          display: spec.showX,
          grid: { display: false, drawTicks: false },
          border: { display: false },
          afterBuildTicks: (s: any) => {
            s.ticks = dayTicks.map((v) => ({ value: v }));
          },
          ticks: {
            autoSkip: false,
            maxRotation: 0,
            padding: 7,
            color: AXIS_COLOR,
            font: { family: FONT, size: 13 },
            callback: (v: any) => (labeledDays.includes(Number(v)) ? String(v) : ''),
          },
          title: {
            display: spec.showX,
            text: 'Day of year',
            color: AXIS_COLOR,
            font: { family: FONT, size: 13 },
            padding: { top: 0, bottom: 2 },
          },
          afterFit: (s: any) => {
            if (spec.showX) s.height = 41;
          },
        },
        y: {
          type: 'linear',
          min: 0,
          max: spec.yMax,
          grid: { display: false, drawTicks: false },
          border: { display: false },
          afterBuildTicks: (s: any) => {
            s.ticks = spec.yTicks.map((v) => ({ value: v }));
          },
          ticks: {
            padding: 6,
            color: AXIS_COLOR,
            font: { family: FONT, size: 13 },
          },
          afterFit: (s: any) => {
            s.width = 106.5;
          },
        },
      },
    },
    plugins: [decorPlugin(spec)],
  } as any);
}

// plot boxes: (a) 9–140.5, (b) 151–282, (c) 292–423 page pixels
const panels: PanelSpec[] = [
  { letter: '(a)', yMax: 15, yTicks: dmsTicks, top: 9 - PAD, height: 131.5 + 2 * PAD, padBottom: PAD, showX: false, points: deltaDms },
  { letter: '(b)', yMax: 50, yTicks: fluxTicks, top: 151 - PAD, height: 131 + 2 * PAD, padBottom: PAD, showX: false, points: dmsFlux },
  { letter: '(c)', yMax: 60, yTicks: kTicks, top: 292 - PAD, height: 464 - (292 - PAD), padBottom: 0, showX: true, points: kDms, line: kModel },
];

const titleBase: React.CSSProperties = {
  position: 'absolute',
  transform: 'translate(-50%, -50%)',
  whiteSpace: 'nowrap',
  fontFamily: FONT,
  fontSize: 12,
  lineHeight: 1,
  color: LABEL_GREEN,
};

export default function App() {
  const refs = [useRef<HTMLCanvasElement>(null), useRef<HTMLCanvasElement>(null), useRef<HTMLCanvasElement>(null)];

  useEffect(() => {
    const charts = panels.map((p, i) => buildChart(refs[i].current as HTMLCanvasElement, p));
    return () => charts.forEach((c) => c.destroy());
  }, []);

  return (
    <div style={{ position: 'absolute', left: 0, top: 0, width: 532, height: 464, background: '#ffffff', overflow: 'hidden' }}>
      {panels.map((p, i) => (
        <canvas
          key={p.letter}
          ref={refs[i]}
          width={532}
          height={p.height}
          style={{ position: 'absolute', left: 0, top: p.top, width: 532, height: p.height }}
        />
      ))}
      <div style={{ ...titleBase, left: 50.5, top: 80 }}>ΔDMS (ppb)</div>
      <div style={{ ...titleBase, left: 49.7, top: 211.7 }}>DMS flux</div>
      <div style={{ ...titleBase, left: 42.8, top: 229 }}>
        (μmol m<span style={{ fontSize: 8, position: 'relative', top: -4 }}>−2</span> day)
      </div>
      <div style={{ ...titleBase, left: 57, top: 348 }}>
        k<span style={{ fontSize: 9.5, position: 'relative', top: 4 }}>DMS,Sc</span>
      </div>
      <div style={{ ...titleBase, left: 61.8, top: 366.7 }}>
        (cm h<span style={{ fontSize: 8, position: 'relative', top: -4 }}>−1</span>)
      </div>
    </div>
  );
}
